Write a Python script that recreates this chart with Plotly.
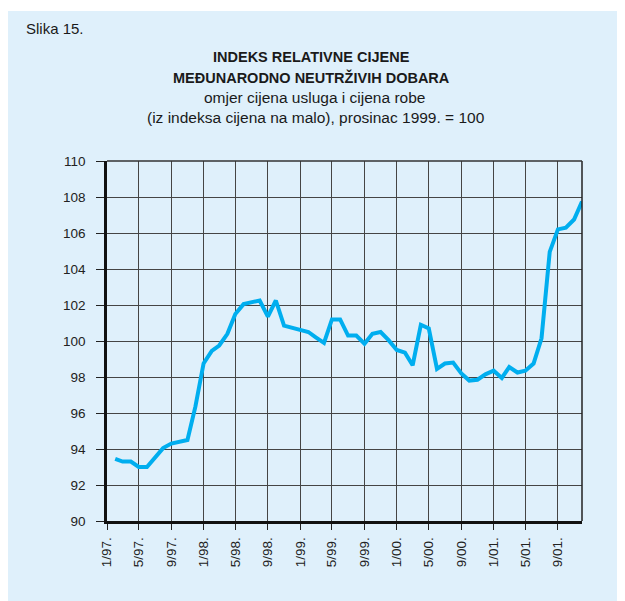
import pandas as pd
import plotly.graph_objects as go

# monthly index, prosinac 1999. = 100 (series starts 2/97)
index_values = [
    93.45, 93.3, 93.3, 93.0, 93.0, 93.5, 94.05, 94.3, 94.4, 94.5, 96.35,
    98.75, 99.45, 99.75, 100.4, 101.5, 102.05, 102.15, 102.25, 101.35, 102.25,
    100.85, 100.75, 100.65, 100.5, 100.2, 99.9, 101.2, 101.2, 100.3, 100.3,
    99.85, 100.4, 100.5, 100.05, 99.5, 99.35, 98.65, 100.9, 100.7, 98.45,
    98.75, 98.8, 98.2, 97.8, 97.85, 98.15, 98.35, 97.95, 98.55, 98.25,
    98.35, 98.75, 100.15, 104.95, 106.2, 106.3, 106.75, 107.75,
]
months = pd.date_range("1997-02-01", periods=len(index_values), freq="MS")

tick_dates = [
    "1997-01-01", "1997-05-01", "1997-09-01", "1998-01-01", "1998-05-01",
    "1998-09-01", "1999-01-01", "1999-05-01", "1999-09-01", "2000-01-01",
    "2000-05-01", "2000-09-01", "2001-01-01", "2001-05-01", "2001-09-01",
]
tick_labels = [
    "1/97.", "5/97.", "9/97.", "1/98.", "5/98.", "9/98.", "1/99.", "5/99.",
    "9/99.", "1/00.", "5/00.", "9/00.", "1/01.", "5/01.", "9/01.",
]
y_ticks = [90, 92, 94, 96, 98, 100, 102, 104, 106, 108, 110]

# the page body adds an 8px margin, so the figure is drawn 8px in from the corner
OFF = 8
W, H = 625 - OFF, 601 - OFF
LEFT, RIGHT, TOP, BOTTOM = 107 - OFF, 582 - OFF, 161 - OFF, 521 - OFF
BG = "#dff0fb"
FONT = "Liberation Sans, Arial, sans-serif"


def px_x(px):
    # screen pixel -> paper fraction
    return (px - OFF - LEFT) / (RIGHT - LEFT)


def px_y(py):
    return (BOTTOM - (py - OFF)) / (BOTTOM - TOP)


fig = go.Figure()
fig.add_trace(
    go.Scatter(
        x=months,
        y=index_values,
        mode="lines",
        line=dict(color="#00aeef", width=4),
        showlegend=False,
        hoverinfo="x+y",
    )
)

grid = dict(showgrid=True, gridcolor="#454545", gridwidth=1.3)
fig.update_xaxes(
    type="date",
    range=["1997-01-01", "2001-12-01"],
    tickvals=tick_dates,
    ticktext=tick_labels,
    tickangle=-90,
    ticks="outside",
    ticklen=6,
    tickwidth=1.3,
    tickcolor="#222",
    ticklabelstandoff=2,
    showline=True,
    linecolor="#111",
    linewidth=2.5,
    tickfont=dict(family=FONT, size=13.5, color="#222"),
    **grid,
)
fig.update_yaxes(
    range=[90, 110],
    tickvals=y_ticks,
    ticks="outside",
    ticklen=8,
    tickwidth=1.3,
    tickcolor="#222",
    ticklabelstandoff=8,
    showline=True,
    linecolor="#111",
    linewidth=2.5,
    zeroline=False,
    tickfont=dict(family=FONT, size=13.5, color="#222"),
    **grid,
)

shapes = [
    # light blue panel behind everything
    dict(type="rect", xref="paper", yref="paper",
         x0=px_x(8), x1=px_x(640), y0=px_y(620), y1=px_y(11),
         fillcolor=BG, line=dict(width=0), layer="below"),
    # right frame edge
    dict(type="line", xref="paper", yref="paper",
         x0=1, x1=1, y0=0, y1=1, line=dict(color="#222", width=1.5)),
    # top frame edge
    dict(type="line", xref="paper", yref="paper",
         x0=0, x1=1, y0=1, y1=1, line=dict(color="#333", width=1.5)),
]

text_color = "#1a1a1a"
annotations = [
    dict(text="Slika 15.", x=px_x(24), y=px_y(28.5), xanchor="left",
         font=dict(size=15)),
    dict(text="<b>INDEKS RELATIVNE CIJENE</b>", x=px_x(311), y=px_y(57.5),
         font=dict(size=14.5)),
    dict(text="<b>MEĐUNARODNO NEUTRŽIVIH DOBARA</b>", x=px_x(311), y=px_y(78),
         font=dict(size=14.5)),
    dict(text="omjer cijena usluga i cijena robe", x=px_x(314), y=px_y(98),
         font=dict(size=15.5)),
    dict(text="(iz indeksa cijena na malo), prosinac 1999. = 100", x=px_x(316),
         y=px_y(117.5), font=dict(size=15.5)),
]
for ann in annotations:
    ann.update(xref="paper", yref="paper", showarrow=False, yanchor="middle")
    ann.setdefault("xanchor", "center")
    ann["font"].update(family=FONT, color=text_color)

fig.update_layout(
    width=W,
    height=H,
    margin=dict(l=LEFT, r=W - RIGHT, t=TOP, b=H - BOTTOM, autoexpand=False),
    paper_bgcolor="white",
    plot_bgcolor=BG,
    shapes=shapes,
    annotations=annotations,
    showlegend=False,
)

fig.write_html("out.html")
